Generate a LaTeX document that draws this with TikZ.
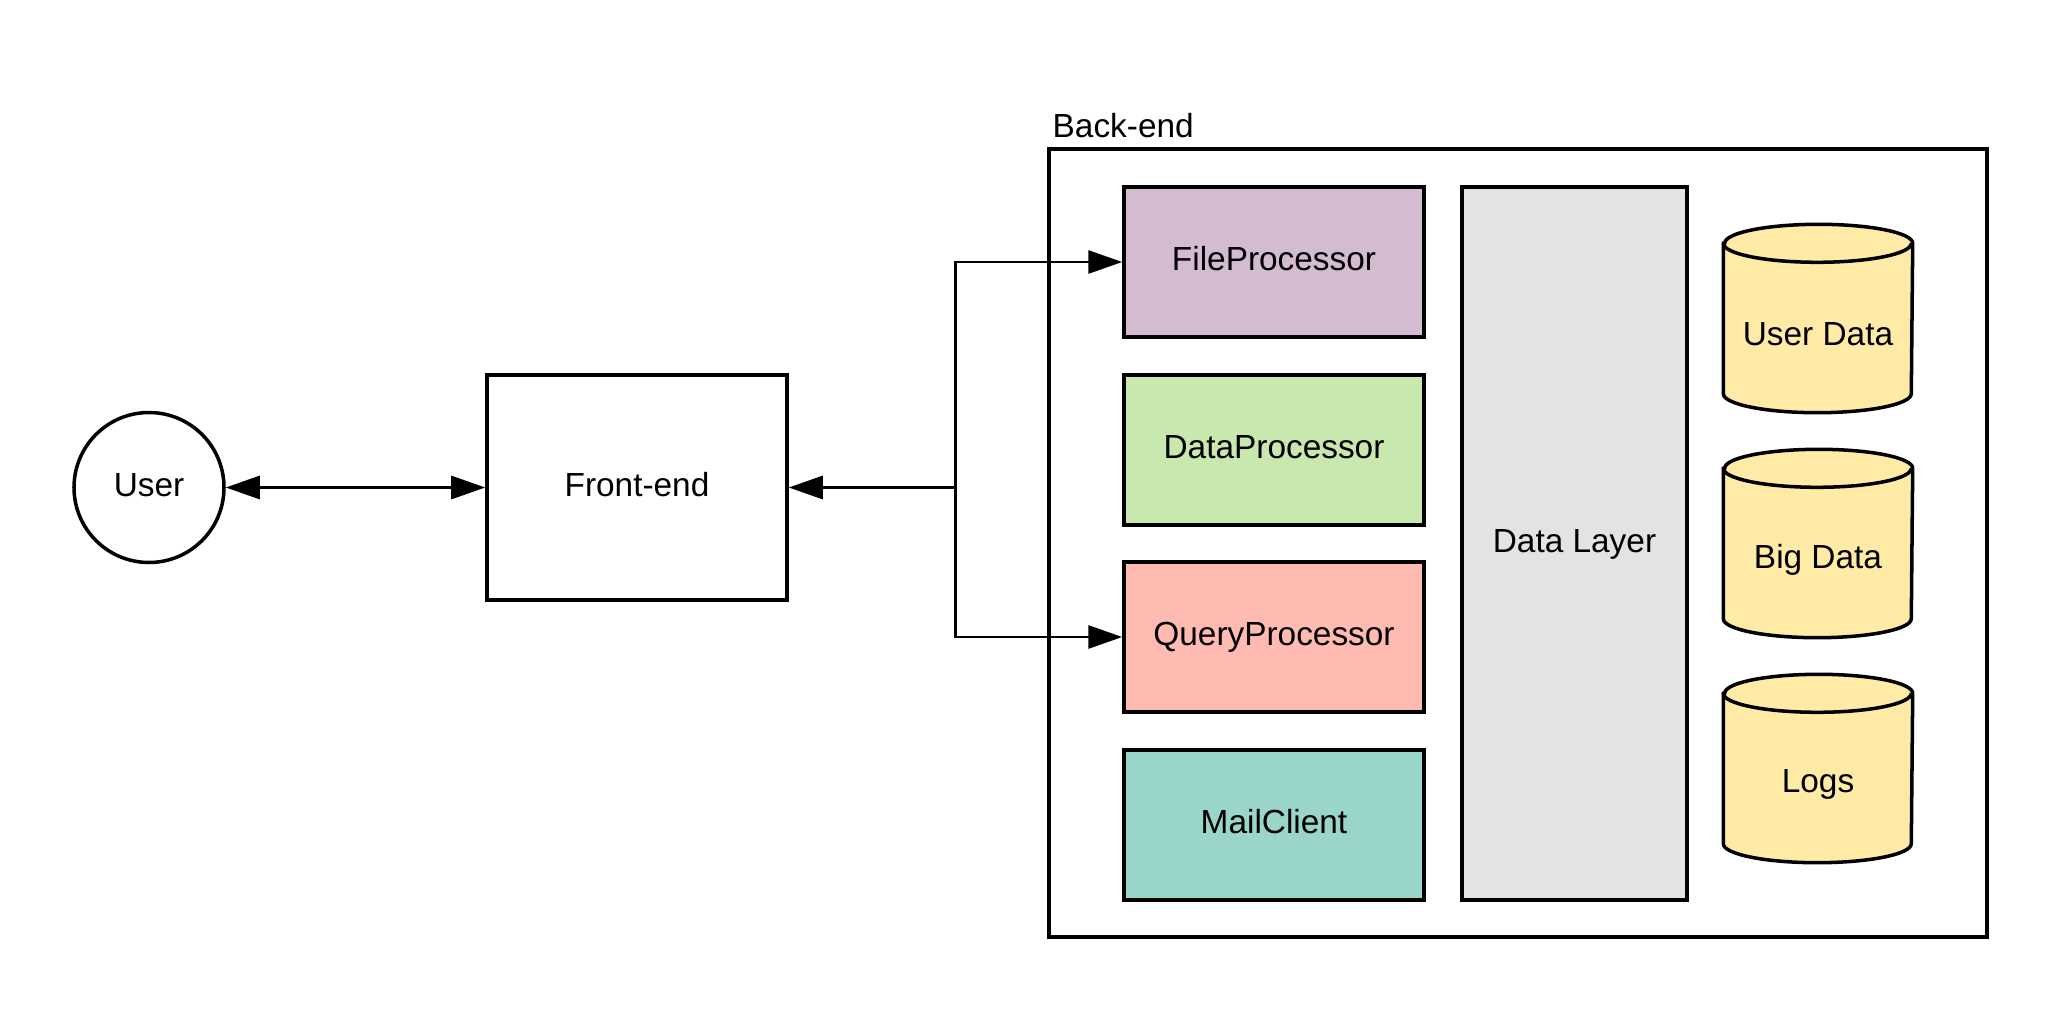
\documentclass[tikz,border=0pt]{standalone}
\usepackage{fontspec}
\setmainfont{Liberation Sans}
\usepackage{tikz}
\usetikzlibrary{shapes.geometric,arrows.meta,positioning,calc}
\definecolor{procpurple}{HTML}{D3BBD2}
\definecolor{procgreen} {HTML}{C8E8AD}
\definecolor{procred}   {HTML}{FFBBB1}
\definecolor{procteal}  {HTML}{9AD5CA}
\definecolor{layergray} {HTML}{E3E3E3}
\definecolor{dbyellow}  {HTML}{FFEBA6}
\begin{document}
\begin{tikzpicture}[
  base/.style ={draw=black,line width=1pt,align=center,
                text height=6.9pt,text depth=2pt,
                font=\fontsize{9.5pt}{11.4pt}\selectfont},
  proc/.style ={base,minimum width=3.0cm,minimum height=1.5cm},
  dbframe/.style ={minimum width=1.88cm,minimum height=1.87cm,inner sep=0pt},
  txt/.style  ={font=\fontsize{9.5pt}{11.4pt}\selectfont,inner sep=0pt},
  arr/.style  ={-{Triangle[length=3.4mm,width=2.3mm]},line width=0.85pt},
  darr/.style ={{Triangle[length=3.4mm,width=2.3mm]}-{Triangle[length=3.4mm,width=2.3mm]},
                line width=0.85pt},
  x=1cm, y=1cm
]
\useasboundingbox (0,0) rectangle (20.63,-10.13);
%% User and front-end
\node[base,circle,minimum size=1.5cm,inner sep=0pt] (user) at (1.49,-4.875) {User};
\node[base,minimum width=3.0cm,minimum height=2.25cm] (front) at (6.37,-4.875) {Front-end};
%% Back-end frame (spans 10.49..19.87 x 1.49..9.37)
\node[base,minimum width=9.38cm,minimum height=7.88cm] (backend) at (15.18,-5.43) {};
\node[txt,anchor=base west] (belabel) at (10.52,-1.37) {Back-end};
%% Processors (column at x=12.74)
\node[proc,fill=procpurple] (fileproc)  at (12.74,-2.62) {FileProcessor};
\node[proc,fill=procgreen]  (dataproc)  at (12.74,-4.50) {DataProcessor};
\node[proc,fill=procred]    (queryproc) at (12.74,-6.37) {QueryProcessor};
\node[proc,fill=procteal]   (mail)      at (12.74,-8.25) {MailClient};
%% Data layer
\node[base,fill=layergray,minimum width=2.25cm,minimum height=7.13cm]
  (datalayer) at (15.745,-5.435) {Data Layer};
%% Stores: cylinders drawn round a frame node, text set below the lid
\foreach \name/\y/\label in {userdata/-3.185/User Data,
                             bigdata/-5.435/Big Data,
                             logs/-7.685/Logs}{
  \node[dbframe] (\name) at (18.18,\y) {};
  \draw[line width=1pt,fill=dbyellow]
    ([yshift=-0.19cm]\name.north west)
    -- ([yshift=0.19cm]\name.south west)
    arc[start angle=180,end angle=360,x radius=0.94cm,y radius=0.19cm]
    -- ([yshift=-0.19cm]\name.north east)
    arc[start angle=0,end angle=180,x radius=0.94cm,y radius=0.19cm]
    -- cycle;
  \draw[line width=1pt] ([yshift=-0.19cm]\name.north west)
    arc[start angle=180,end angle=360,x radius=0.94cm,y radius=0.19cm];
  \node[txt] (\name-text) at ([yshift=-0.16cm]\name.center) {\label};
}
%% Connectors
\coordinate (split) at (9.55,-4.875);
\draw[darr] (user) -- (front);
\draw[arr] (split) -- (front.east);
\draw[arr] (split) |- (fileproc.west);
\draw[arr] (split) |- (queryproc.west);
\end{tikzpicture}
\end{document}
